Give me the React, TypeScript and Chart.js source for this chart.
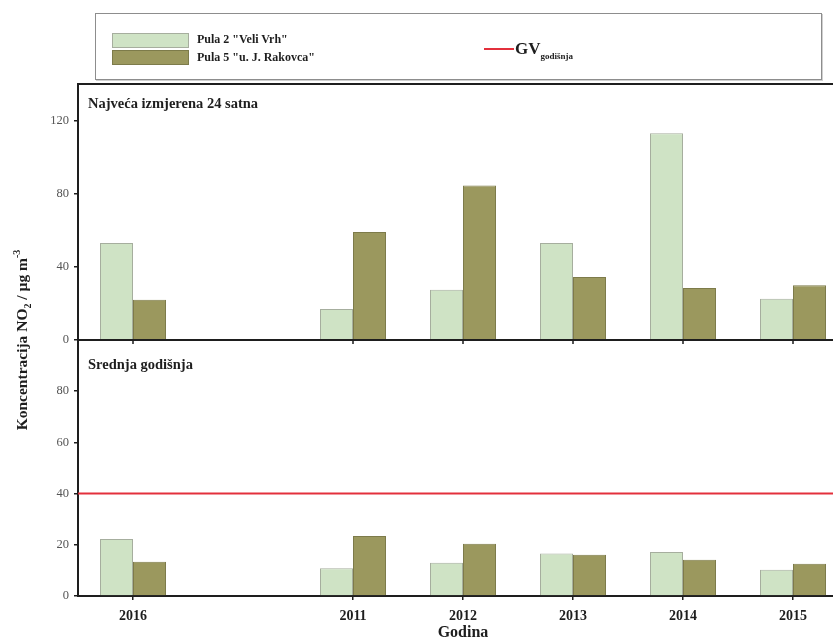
import { useEffect, useRef } from 'react';
import { Chart, registerables } from 'chart.js';

Chart.register(...registerables);

// Years on the category axis; the blank slot separates 2016 from the 2011–2015 series.
const years = ['2016', '', '2011', '2012', '2013', '2014', '2015'];

// Highest measured 24-hour concentration (µg/m³)
const max24hVeliVrh = [53, null, 17, 27.5, 53, 113, 22.5];
const max24hRakovca = [22, null, 59, 84.5, 34.5, 28.5, 30];

// Annual mean concentration (µg/m³)
const annualVeliVrh = [22.3, null, 10.8, 13, 16.6, 17.2, 10.3];
const annualRakovca = [13.4, null, 23.4, 20.4, 16.1, 14.2, 12.6];

// Annual limit value (GV godišnja)
const annualLimit = 40;

const seriesNames = ['Pula 2 "Veli Vrh"', 'Pula 5 "u. J. Rakovca"'];
const panelTitles = ['Najveća izmjerena 24 satna', 'Srednja godišnja'];

const SERIF = '"Liberation Serif", "Times New Roman", serif';
const LIGHT = '#cfe3c5';
const LIGHT_EDGE = '#a6ae9e';
const DARK = '#9b985e';
const DARK_EDGE = '#7d7b4a';
const RED = '#e3303c';
const INK = '#1e1e1e';

const panelsPlugin = {
  id: 'panels',
  afterDatasetsDraw(chart: any) {
    const { ctx, chartArea, scales } = chart;
    const yBot = scales.yBot;
    ctx.save();
    // annual limit line
    const yl = yBot.getPixelForValue(annualLimit);
    ctx.strokeStyle = RED;
    ctx.lineWidth = 2;
    ctx.beginPath();
    ctx.moveTo(chartArea.left, yl);
    ctx.lineTo(chartArea.right, yl);
    ctx.stroke();
    ctx.restore();
  },
  afterDraw(chart: any) {
    const { ctx, chartArea, scales } = chart;
    const yTop = scales.yTop;
    const x = scales.x;
    ctx.save();
    ctx.strokeStyle = INK;
    ctx.lineWidth = 2;
    // frame top and panel divider
    ctx.beginPath();
    ctx.moveTo(chartArea.left, chartArea.top);
    ctx.lineTo(chartArea.right, chartArea.top);
    const yd = yTop.getPixelForValue(0);
    ctx.moveTo(chartArea.left, yd);
    ctx.lineTo(chartArea.right, yd);
    ctx.stroke();
    // tick marks under the divider
    ctx.lineWidth = 1.5;
    ctx.beginPath();
    years.forEach((yr, i) => {
      if (!yr) return;
      const px = x.getPixelForValue(i);
      ctx.moveTo(px, yd);
      ctx.lineTo(px, yd + 4);
    });
    ctx.stroke();

    // panel titles
    ctx.fillStyle = INK;
    ctx.font = `bold 14.5px ${SERIF}`;
    ctx.textBaseline = 'middle';
    ctx.textAlign = 'left';
    ctx.fillText(panelTitles[0], chartArea.left + 10, chartArea.top + 20);
    ctx.fillText(panelTitles[1], chartArea.left + 10, yd + 25);

    // x-axis title
    ctx.font = `bold 16px ${SERIF}`;
    ctx.textAlign = 'center';
    ctx.fillText('Godina', (chartArea.left + chartArea.right) / 2, 633);

    // y-axis title with sub/superscripts, rotated
    const parts: [string, number, number][] = [
      ['Koncentracija NO', 15.5, 0],
      ['2', 10, 4],
      [' / µg m', 15.5, 0],
      ['-3', 10, -7],
    ];
    let total = 0;
    parts.forEach(([t, s]) => {
      ctx.font = `bold ${s}px ${SERIF}`;
      total += ctx.measureText(t).width;
    });
    const cy = (chartArea.top + chartArea.bottom) / 2;
    ctx.translate(22, cy);
    ctx.rotate(-Math.PI / 2);
    ctx.textAlign = 'left';
    ctx.textBaseline = 'alphabetic';
    let cx = -total / 2;
    parts.forEach(([t, s, dy]) => {
      ctx.font = `bold ${s}px ${SERIF}`;
      ctx.fillText(t, cx, 5 + dy);
      cx += ctx.measureText(t).width;
    });
    ctx.restore();
  },
};

export default function App() {
  const ref = useRef<HTMLCanvasElement | null>(null);

  useEffect(() => {
    if (!ref.current) return;
    const yCommon = {
      type: 'linear' as const,
      position: 'left' as const,
      stack: 'panels',
      stackWeight: 1,
      stacked: false,
      afterFit: (s: any) => {
        s.width = 78;
      },
      border: { color: INK, width: 2 },
      grid: { drawOnChartArea: false, color: INK, tickLength: 4, lineWidth: 1.5 },
    };
    const tickFont = { family: SERIF, size: 12.5 };
    const chart = new Chart(ref.current, {
      type: 'bar',
      data: {
        labels: years,
        datasets: [
          {
            label: seriesNames[0],
            data: max24hVeliVrh,
            yAxisID: 'yTop',
            stack: 'a',
            backgroundColor: LIGHT,
            borderColor: LIGHT_EDGE,
            borderWidth: 1,
          },
          {
            label: seriesNames[1],
            data: max24hRakovca,
            yAxisID: 'yTop',
            stack: 'b',
            backgroundColor: DARK,
            borderColor: DARK_EDGE,
            borderWidth: 1,
          },
          {
            label: seriesNames[0],
            data: annualVeliVrh,
            yAxisID: 'yBot',
            stack: 'a',
            backgroundColor: LIGHT,
            borderColor: LIGHT_EDGE,
            borderWidth: 1,
          },
          {
            label: seriesNames[1],
            data: annualRakovca,
            yAxisID: 'yBot',
            stack: 'b',
            backgroundColor: DARK,
            borderColor: DARK_EDGE,
            borderWidth: 1,
          },
        ],
      },
      options: {
        animation: false,
        responsive: false,
        devicePixelRatio: 1,
        layout: { padding: { top: 84, left: 0, right: 0, bottom: 0 } },
        datasets: { bar: { barPercentage: 1, categoryPercentage: 0.6 } },
        plugins: { legend: { display: false }, tooltip: { enabled: false } },
        scales: {
          x: {
            type: 'category',
            afterFit: (s: any) => {
              s.height = 44;
            },
            border: { color: INK, width: 2 },
            grid: {
              offset: false,
              drawOnChartArea: false,
              tickLength: 4,
              lineWidth: 1.5,
              color: (c: any) => (years[c.index] ? INK : 'rgba(0,0,0,0)'),
            },
            ticks: {
              font: { family: SERIF, size: 14, weight: 'bold' },
              color: INK,
              padding: 8,
              maxRotation: 0,
              autoSkip: false,
            },
          },
          // stacked axes are laid out bottom-up in declaration order
          yBot: {
            ...yCommon,
            min: 0,
            max: 100,
            afterBuildTicks: (s: any) => {
              s.ticks = s.ticks.filter((t: any) => t.value <= 80);
            },
            ticks: { stepSize: 20, font: tickFont, color: '#555', padding: 5 },
          },
          yTop: {
            ...yCommon,
            min: 0,
            max: 140,
            ticks: { stepSize: 40, includeBounds: false, font: tickFont, color: '#555', padding: 5 },
          },
        },
      } as any,
      plugins: [panelsPlugin],
    });
    return () => chart.destroy();
  }, []);

  const legendText = { position: 'absolute' as const, fontSize: 12, fontWeight: 'bold' as const, lineHeight: '14px', whiteSpace: 'nowrap' as const };

  return (
    <div style={{ position: 'absolute', left: 0, top: 0, width: 833, height: 640, overflow: 'hidden', background: '#fff', fontFamily: SERIF, color: INK }}>
      <canvas ref={ref} width={848} height={640} style={{ position: 'absolute', left: 0, top: 0 }} />
      <div style={{ position: 'absolute', left: 95, top: 13, width: 725, height: 65, border: '1px solid #8d8d8d', boxShadow: '1px 1px 0 #cfcfcf', background: '#fff' }}>
        <div style={{ position: 'absolute', left: 16, top: 19, width: 75, height: 13, background: LIGHT, border: `1px solid ${LIGHT_EDGE}` }} />
        <div style={{ position: 'absolute', left: 16, top: 36, width: 75, height: 13, background: DARK, border: `1px solid ${DARK_EDGE}` }} />
        <div style={{ ...legendText, left: 101, top: 18 }}>{seriesNames[0]}</div>
        <div style={{ ...legendText, left: 101, top: 36 }}>{seriesNames[1]}</div>
        <div style={{ position: 'absolute', left: 388, top: 34, width: 30, height: 2, background: RED }} />
        <div style={{ ...legendText, left: 419, top: 25, fontSize: 17, lineHeight: '19px' }}>
          GV<sub style={{ fontSize: 9, verticalAlign: 'baseline', position: 'relative', top: 5 }}>godišnja</sub>
        </div>
      </div>
    </div>
  );
}
